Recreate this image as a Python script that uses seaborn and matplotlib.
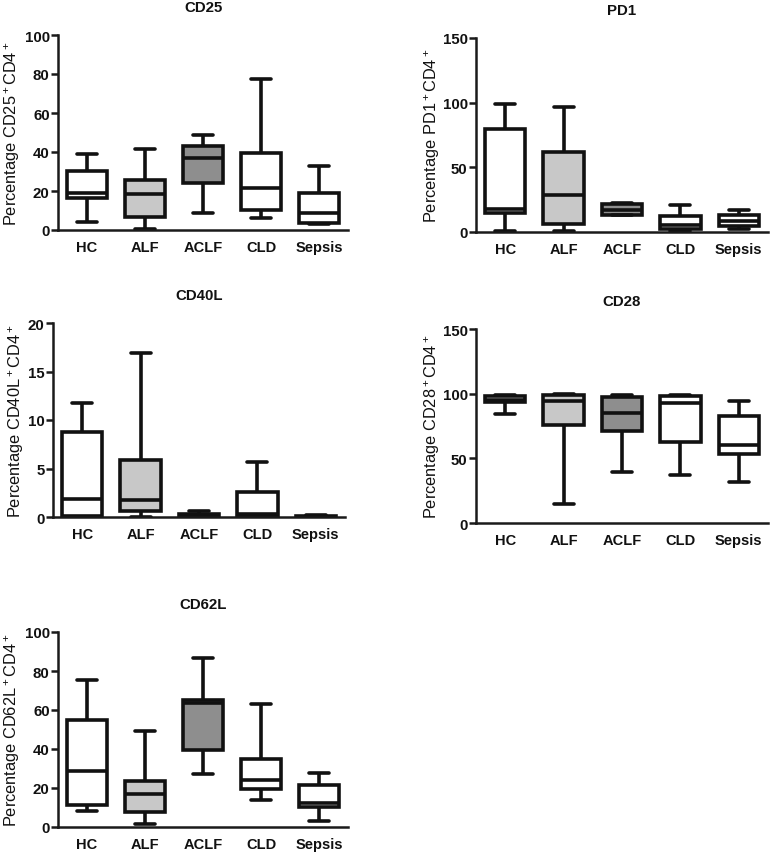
import numpy as np
import pandas as pd
import matplotlib
matplotlib.use("Agg")
import matplotlib.pyplot as plt
import seaborn as sns

categories = ["HC", "ALF", "ACLF", "CLD", "Sepsis"]

# five-number summaries per group: [min, q1, median, q3, max]
cd25 = {"HC": [4, 16.3, 19.2, 30.2, 39], "ALF": [0.5, 6.8, 18.5, 25.4, 41.6],
        "ACLF": [8.6, 23.9, 36.8, 43, 48.5], "CLD": [6, 10.2, 21.5, 39.4, 77.5],
        "Sepsis": [3.2, 3.5, 8.6, 19, 32.6]}
pd1 = {"HC": [0.5, 14.7, 18, 80, 99.2], "ALF": [0.5, 6, 28.4, 62, 96.6],
       "ACLF": [12.9, 13.4, 17.3, 21.4, 22.4], "CLD": [0.5, 2, 5.2, 12.1, 20.6],
       "Sepsis": [2.6, 4.4, 8.2, 12.9, 16.8]}
cd40l = {"HC": [0, 0.1, 1.9, 8.8, 11.8], "ALF": [0.05, 0.6, 1.8, 5.85, 16.9],
         "ACLF": [0, 0.1, 0.25, 0.35, 0.6], "CLD": [0, 0.1, 0.3, 2.6, 5.7],
         "Sepsis": [0, 0.02, 0.05, 0.1, 0.2]}
cd28 = {"HC": [84, 93.3, 95.4, 98, 99], "ALF": [14.7, 75.8, 94.6, 99, 99.7],
        "ACLF": [39.2, 71.4, 85, 97.7, 99], "CLD": [37.4, 62.4, 92.5, 98, 99.2],
        "Sepsis": [31.4, 53.4, 60.6, 82.5, 94]}
cd62l = {"HC": [8.2, 11.5, 28.7, 55, 75.6], "ALF": [1.7, 7.7, 17.1, 23.4, 49],
         "ACLF": [27.4, 39.3, 63.6, 65, 86.8], "CLD": [13.7, 19.7, 24.3, 34.7, 62.9],
         "Sepsis": [2.9, 10.3, 12.5, 21.4, 27.7]}

titles = ["CD25", "PD1", "CD40L", "CD28", "CD62L"]
ylabels = ["Percentage CD25$^+$CD4$^+$", "Percentage PD1$^+$CD4$^+$",
           "Percentage CD40L$^+$CD4$^+$", "Percentage CD28$^+$CD4$^+$",
           "Percentage CD62L$^+$CD4$^+$"]
yticks = [[0, 20, 40, 60, 80, 100], [0, 50, 100, 150], [0, 5, 10, 15, 20],
          [0, 50, 100, 150], [0, 20, 40, 60, 80, 100]]
palette = {"HC": "#ffffff", "ALF": "#c8c8c8", "ACLF": "#8e8e8e",
           "CLD": "#ffffff", "Sepsis": "#ffffff"}

sns.set_theme(style="ticks")
plt.rcParams["font.family"] = ["Liberation Sans", "DejaVu Sans"]
plt.rcParams["mathtext.fontset"] = "custom"
plt.rcParams["mathtext.rm"] = "Liberation Sans"
plt.rcParams["mathtext.it"] = "Liberation Sans"
plt.rcParams["mathtext.bf"] = "Liberation Sans:bold"

W, H = 770, 853
fig = plt.figure(figsize=(7.7, 8.53), dpi=100)

# pixel boxes: left, right, top(y of max tick), bottom(y of 0)
boxes = [(58, 348, 36, 231), (476, 768, 39, 233), (53, 345, 324, 518),
         (476, 768, 330, 524), (58, 348, 633, 828)]
label_x = [22, 442, 26, 442, 22]
datasets = [cd25, pd1, cd40l, cd28, cd62l]

for i, d in enumerate(datasets):
    l, r, t, b = boxes[i]
    ax = fig.add_axes([l / W, 1 - b / H, (r - l) / W, (b - t) / H])
    rows = [(c, v) for c in categories for v in d[c]]
    df = pd.DataFrame(rows, columns=["group", "value"])
    sns.boxplot(data=df, x="group", y="value", hue="group", order=categories,
                hue_order=categories, palette=palette, whis=(0, 100),
                width=0.69, linewidth=2.6, linecolor="#111111", fliersize=0,
                legend=False, ax=ax)
    ax.set_ylim(yticks[i][0], yticks[i][-1])
    ax.set_xlim(-0.5, 4.5)
    ax.set_yticks(yticks[i])
    ax.set_xlabel("")
    ax.set_ylabel(ylabels[i], fontsize=11.8, color="#111111")
    ax.yaxis.set_label_coords((label_x[i] - l) / (r - l), 0.5)
    ax.set_title(titles[i], fontsize=10.8, fontweight="bold", pad=17,
                 color="#111111")
    for s in ["top", "right"]:
        ax.spines[s].set_visible(False)
    for s in ["left", "bottom"]:
        ax.spines[s].set_linewidth(1.8)
        ax.spines[s].set_color("#1a1a1a")
    ax.tick_params(axis="y", length=5, width=1.8, labelsize=10.8, pad=1,
                   color="#1a1a1a")
    ax.tick_params(axis="x", length=0, labelsize=10.5, pad=7)
    for lab in ax.get_xticklabels() + ax.get_yticklabels():
        lab.set_fontweight("bold")
        lab.set_color("#111111")
    ax.spines["left"].set_bounds(yticks[i][0], yticks[i][-1])

fig.savefig("out.png", dpi=100, facecolor="white")
